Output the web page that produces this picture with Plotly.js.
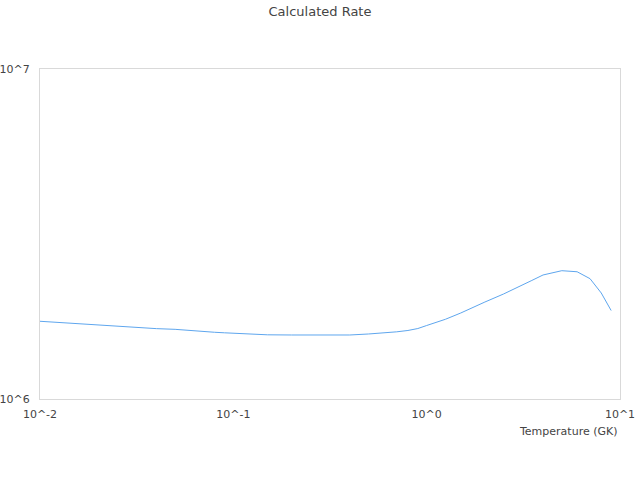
<!DOCTYPE html>
<html>
<head>
<meta charset="utf-8">
<script src="https://cdn.plot.ly/plotly-3.0.1.min.js"></script>
<style>
  html, body { margin: 0; padding: 0; background: #fff; }
  #chart { width: 640px; height: 480px; }
</style>
</head>
<body>
<div id="chart"></div>
<script>
// temperatures (GK) and calculated rate
var temperature = [0.01, 0.015, 0.02, 0.03, 0.04, 0.05, 0.06, 0.07, 0.08, 0.09,
  0.1, 0.12, 0.15, 0.2, 0.3, 0.4, 0.5, 0.6, 0.7, 0.8, 0.9,
  1.0, 1.25, 1.5, 1.75, 2, 2.5, 3, 3.5, 4, 5, 6, 7, 8, 9];
var rate = [1.720e6, 1.693e6, 1.676e6, 1.655e6, 1.634e6, 1.626e6, 1.611e6, 1.599e6, 1.593e6, 1.587e6,
  1.582e6, 1.574e6, 1.565e6, 1.563e6, 1.563e6, 1.563e6, 1.574e6, 1.585e6, 1.598e6, 1.613e6, 1.635e6,
  1.670e6, 1.744e6, 1.822e6, 1.900e6, 1.967e6, 2.081e6, 2.196e6, 2.287e6, 2.376e6, 2.448e6, 2.430e6, 2.315e6, 2.095e6, 1.854e6];

var xTicks = [0.01, 0.1, 1, 10];
var xTickText = ["10^-2", "10^-1", "10^0", "10^1"];
var yTicks = [1e6, 1e7];
var yTickText = ["10^6", "10^7"];

var trace = {
  x: temperature,
  y: rate,
  type: "scatter",
  mode: "lines",
  line: {color: "#5ea6ee", width: 1},
  hoverinfo: "x+y"
};

var layout = {
  width: 640,
  height: 480,
  font: {family: "DejaVu Sans, sans-serif", size: 11, color: "#444"},
  title: {text: "Calculated Rate", font: {size: 13, color: "#444"}, x: 0.5, y: 0.977, yanchor: "middle"},
  margin: {l: 40, r: 20, t: 69, b: 81},
  showlegend: false,
  paper_bgcolor: "#fff",
  plot_bgcolor: "#fff",
  xaxis: {
    type: "log",
    range: [-2, 1],
    tickvals: xTicks,
    ticktext: xTickText,
    showgrid: false,
    zeroline: false,
    showline: true,
    mirror: true,
    linecolor: "#d9d9d9",
    linewidth: 1,
    ticks: "",
    ticklabelstandoff: 5
  },
  yaxis: {
    type: "log",
    range: [6, 7],
    tickvals: yTicks,
    ticktext: yTickText,
    showgrid: false,
    zeroline: false,
    showline: true,
    mirror: true,
    linecolor: "#d9d9d9",
    linewidth: 1,
    ticks: "",
    ticklabelstandoff: 7
  },
  annotations: [{
    text: "Temperature (GK)",
    xref: "paper", yref: "paper",
    x: 1, y: -0.097,
    xanchor: "right", yanchor: "middle",
    showarrow: false,
    font: {size: 11, color: "#444"}
  }]
};

Plotly.newPlot("chart", [trace], layout, {displayModeBar: false});
</script>
</body>
</html>
